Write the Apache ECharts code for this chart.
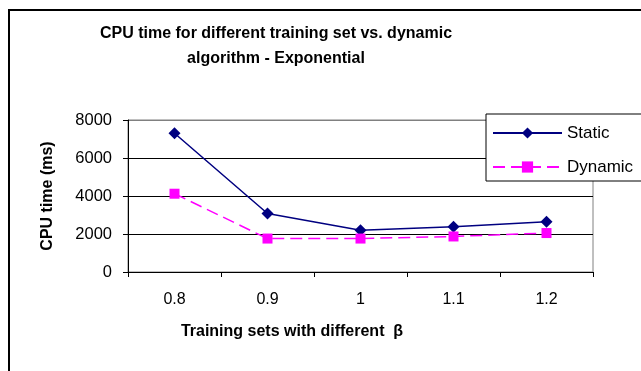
<!DOCTYPE html>
<html><head><meta charset="utf-8">
<script src="https://cdn.jsdelivr.net/npm/echarts@6/dist/echarts.min.js"></script>
<style>html,body{margin:0;padding:0;background:#fff}#c{width:641px;height:371px}</style>
</head><body><div id="c"></div>
<script>
var categories = ['0.8', '0.9', '1', '1.1', '1.2'];
var staticValues = [7300, 3080, 2200, 2380, 2640];
var dynamicValues = [4120, 1760, 1760, 1870, 2050];
var yTicks = [0, 2000, 4000, 6000, 8000];
var titleText = 'CPU time for different training set vs. dynamic\nalgorithm - Exponential';
var xName = 'Training sets with different  β';
var yName = 'CPU time (ms)';

var chart = echarts.init(document.getElementById('c'), null, {renderer: 'canvas'});
var font = 'Arial, "Liberation Sans", sans-serif';
chart.setOption({
  animation: false,
  backgroundColor: '#fff',
  textStyle: {fontFamily: font, color: '#000'},
  title: {
    text: titleText, left: 271, top: 16, textAlign: 'center',
    textStyle: {fontFamily: font, fontSize: 16, fontWeight: 'bold', color: '#000', lineHeight: 25}
  },
  grid: {left: 128, right: 48, top: 120, bottom: 99, show: true, borderColor: '#808080', borderWidth: 1, backgroundColor: 'transparent'},
  legend: {
    orient: 'vertical', left: 486, top: 114,
    padding: [9, 30, 4, 6], itemGap: 14, itemWidth: 69, itemHeight: 14,
    backgroundColor: '#fff', borderColor: '#000', borderWidth: 1,
    textStyle: {fontFamily: font, fontSize: 17, color: '#000', lineHeight: 20},
    data: ['Static', 'Dynamic'], z: 10
  },
  xAxis: {
    type: 'category', data: categories, boundaryGap: true,
    axisLine: {lineStyle: {color: '#000', width: 1}},
    axisTick: {show: true, length: 5, inside: false, lineStyle: {color: '#000'}},
    axisLabel: {fontFamily: font, fontSize: 16, color: '#000', margin: 20}
  },
  yAxis: {
    type: 'value', min: 0, max: 8000, interval: 2000,
    name: yName, nameLocation: 'middle', nameGap: 72,
    nameTextStyle: {fontFamily: font, fontSize: 16, fontWeight: 'bold', color: '#000'},
    axisLine: {show: true, lineStyle: {color: '#000', width: 1}},
    axisTick: {show: true, length: 5, lineStyle: {color: '#000'}},
    axisLabel: {fontFamily: font, fontSize: 16.5, color: '#000', margin: 16,
      formatter: function (v) { return yTicks.indexOf(v) >= 0 ? String(v) : ''; }},
    splitLine: {show: true, lineStyle: {color: ['#000', '#000', '#000', '#000', '#808080'], width: 1}}
  },
  series: [
    {name: 'Static', type: 'line', data: staticValues,
     symbol: 'diamond', symbolSize: 12, showSymbol: true,
     lineStyle: {color: '#000080', width: 1.5}, itemStyle: {color: '#000080'}},
    {name: 'Dynamic', type: 'line', data: dynamicValues,
     symbol: 'rect', symbolSize: 10,
     lineStyle: {color: '#FF00FF', width: 1.5, type: [12, 6]}, itemStyle: {color: '#FF00FF'}}
  ],
  graphic: [
    {type: 'rect', shape: {x: 9, y: 10, width: 700, height: 500}, style: {fill: null, stroke: '#000', lineWidth: 2}, z: 0, silent: true},
    {type: 'text', x: 292, y: 332, style: {text: xName, fontFamily: font, fontSize: 16, fontWeight: 'bold', fill: '#000', textAlign: 'center', textVerticalAlign: 'middle'}}
  ]
});
</script></body></html>
